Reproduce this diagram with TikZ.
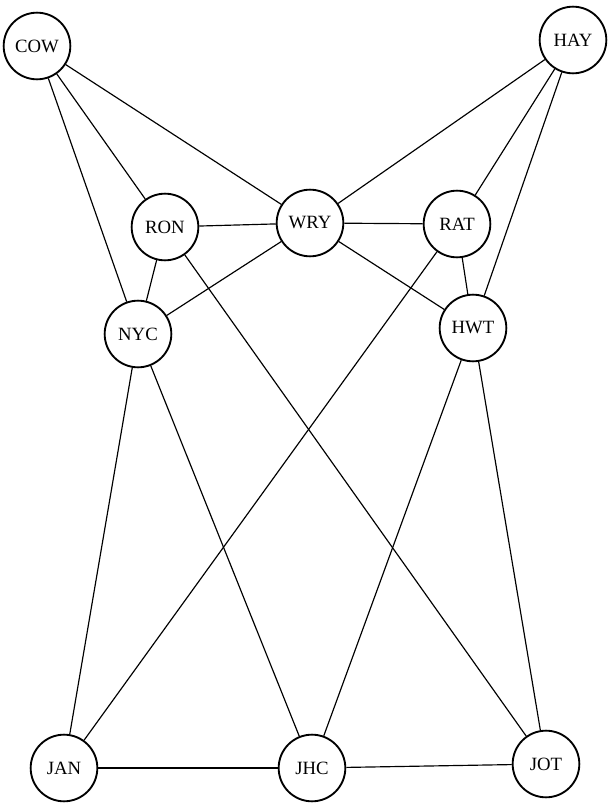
\documentclass[tikz,border=0pt]{standalone}
\usepackage{fontspec}
\setmainfont{Liberation Serif}
\begin{document}
\begin{tikzpicture}
  [scale=.3,every node/.style={circle,draw,line width=.8pt,minimum size=1cm,inner sep=0pt,font=\footnotesize}]
  \useasboundingbox (0,0) rectangle (30.35,40.15);
  \node (cow) at (1.85,37.85) {COW};
  \node (hay) at (28.65,38.15) {HAY};
  \node (ron) at (8.25,28.8)  {RON};
  \node (wry) at (15.5,29.0)  {WRY};
  \node (rat) at (22.85,28.95) {RAT};
  \node (nyc) at (6.9,23.45)  {NYC};
  \node (hwt) at (23.65,23.75) {HWT};
  \node (jan) at (3.2,1.75)   {JAN};
  \node (jhc) at (15.6,1.75)  {JHC};
  \node (jot) at (27.3,1.95)  {JOT};

  \foreach \from/\to in {cow/ron,cow/wry,cow/nyc,hay/wry,hay/rat,hay/hwt,
    ron/wry,wry/rat,ron/nyc,nyc/wry,wry/hwt,rat/hwt,
    ron/jot,rat/jan,nyc/jan,nyc/jhc,hwt/jhc,hwt/jot,jan/jhc,jhc/jot}
    \draw[line width=.5pt] (\from) -- (\to);

\end{tikzpicture}
\end{document}
